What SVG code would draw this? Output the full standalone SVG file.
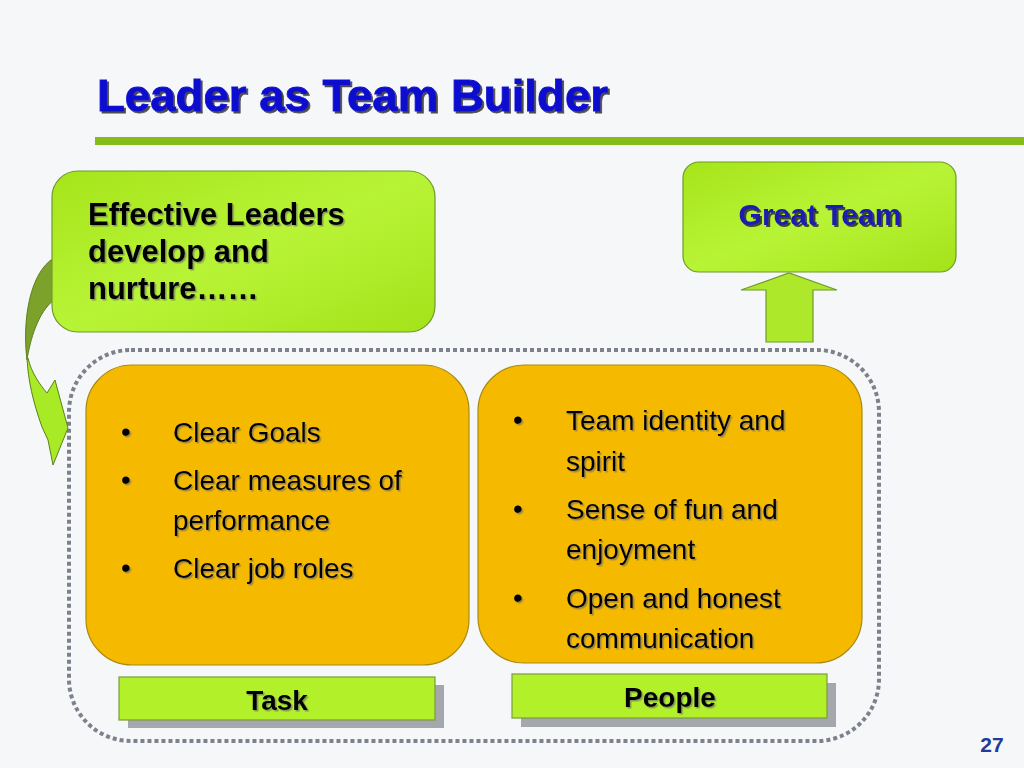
<svg xmlns="http://www.w3.org/2000/svg" width="1024" height="768" viewBox="0 0 1024 768">
<defs>
<style>
.green{fill:url(#gg);stroke:#6f9a2a;stroke-width:1.2}
.gold{fill:#f5ba00;stroke:#a98a10;stroke-width:1.2}
.t{font-family:"Liberation Sans",Arial,sans-serif;fill:#000}
.b{font-weight:bold}
.body{font-size:28px}
.lbl{fill:#b2f02a;stroke:#7a9a40;stroke-width:1.2}
.shd{fill:#a4a8ad}
</style>
<linearGradient id="gg" x1="0" y1="0" x2="1" y2="1">
<stop offset="0" stop-color="#a6e41a"/>
<stop offset="0.5" stop-color="#b8f436"/>
<stop offset="1" stop-color="#a4e21a"/>
</linearGradient>
<filter id="sh" x="-5%" y="-10%" width="110%" height="130%">
<feDropShadow dx="1.5" dy="1.5" stdDeviation="0.6" flood-color="#666" flood-opacity="0.6"/>
</filter>
<filter id="sh2" x="-5%" y="-10%" width="110%" height="130%">
<feDropShadow dx="2" dy="2" stdDeviation="0.5" flood-color="#222" flood-opacity="0.8"/>
</filter>
</defs>
<rect width="1024" height="768" fill="#f6f7f8"/>

<g id="title">
<text x="97" y="111" class="t b" style="font-size:45px;fill:#1010d0;stroke:#1010d0;stroke-width:0.8" textLength="511" lengthAdjust="spacingAndGlyphs" filter="url(#sh2)">Leader as Team Builder</text>
<rect x="95" y="137" width="929" height="8" fill="#84bd1a"/>
</g>

<g id="container">
<rect x="69" y="350" width="810" height="391" rx="62" ry="62" fill="none" stroke="#7c818b" stroke-width="4" stroke-dasharray="4 3"/>
</g>

<g id="connectors">
<path d="M54,258 C30,272 22,320 27,360 C30,340 38,312 54,300 Z" fill="#7ca22c" stroke="#5c7f1e" stroke-width="1"/>
<path d="M27,358 C28,380 33,402 42,427 L48,440 L53,465 L68,428 L55,380 L47,393 C40,385 31,372 28,358 Z" fill="#a8ea26" stroke="#5c7f1e" stroke-width="1"/>
<path d="M766,342 L766,290 L741,290 L789,273 L837,290 L813,290 L813,342 Z" fill="#aee82a" stroke="#6f9a2a" stroke-width="1.2"/>
</g>

<g id="leaders">
<rect x="52" y="171" width="383" height="161" rx="26" ry="26" class="green"/>
<g class="t b" style="font-size:31px" filter="url(#sh)">
<text x="88" y="225">Effective Leaders</text>
<text x="88" y="262">develop and</text>
<text x="88" y="299">nurture……</text>
</g>
</g>

<g id="great-team">
<rect x="683" y="162" width="273" height="110" rx="16" ry="16" class="green"/>
<text x="820" y="225" text-anchor="middle" class="t b" style="font-size:30px;fill:#1a1ab0" filter="url(#sh2)">Great Team</text>
</g>

<g id="task-box">
<rect x="86" y="365" width="383" height="300" rx="46" ry="46" class="gold"/>
<g class="t body" filter="url(#sh)">
<text x="121" y="441">•</text><text x="173" y="442">Clear Goals</text>
<text x="121" y="489">•</text><text x="173" y="490">Clear measures of</text>
<text x="173" y="530">performance</text>
<text x="121" y="577">•</text><text x="173" y="578">Clear job roles</text>
</g>
</g>

<g id="people-box">
<rect x="478" y="365" width="384" height="298" rx="46" ry="46" class="gold"/>
<g class="t body" filter="url(#sh)">
<text x="513" y="429">•</text><text x="566" y="430">Team identity and</text>
<text x="566" y="471">spirit</text>
<text x="513" y="518">•</text><text x="566" y="519">Sense of fun and</text>
<text x="566" y="559">enjoyment</text>
<text x="513" y="607">•</text><text x="566" y="608">Open and honest</text>
<text x="566" y="648">communication</text>
</g>
</g>

<g id="task-label">
<rect x="128" y="685" width="316" height="43" class="shd"/>
<rect x="119" y="677" width="316" height="43" class="lbl"/>
<text x="277" y="710" text-anchor="middle" class="t b" style="font-size:28px" filter="url(#sh)">Task</text>
</g>

<g id="people-label">
<rect x="521" y="683" width="315" height="44" class="shd"/>
<rect x="512" y="674" width="315" height="44" class="lbl"/>
<text x="670" y="707" text-anchor="middle" class="t b" style="font-size:28px" filter="url(#sh)">People</text>
</g>

<g id="page-number">
<text x="992" y="752" text-anchor="middle" class="t b" style="font-size:21px;fill:#1f3c99">27</text>
</g>
</svg>
